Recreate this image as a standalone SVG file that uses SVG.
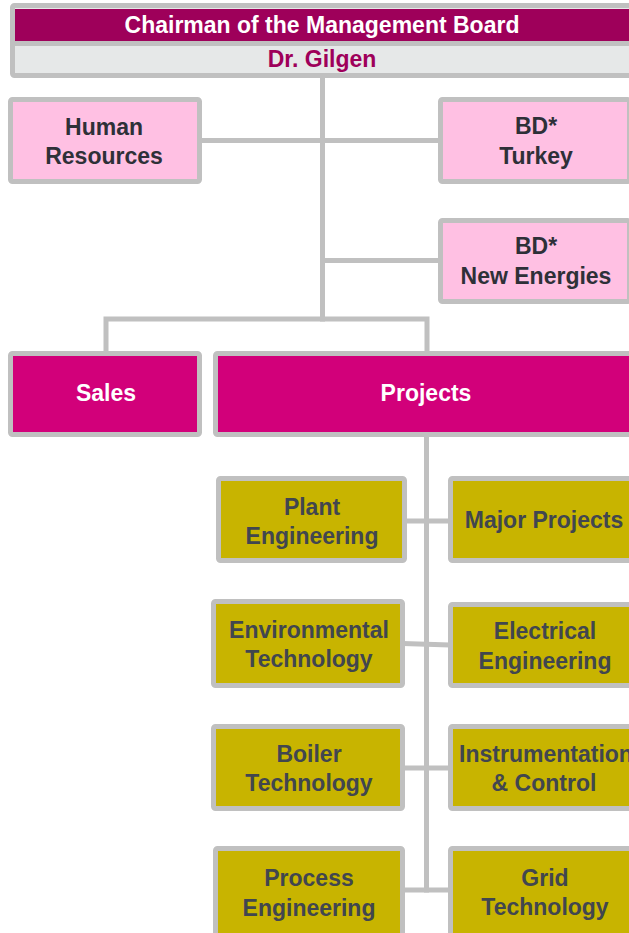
<svg xmlns="http://www.w3.org/2000/svg" width="629" height="933" viewBox="0 0 629 933">
  <style>
    text { font-family: "Liberation Sans", Arial, sans-serif; font-weight: bold; font-size: 23px; text-anchor: middle; }
    .frame { stroke: #c0c0c0; stroke-width: 5; }
    .staff { fill: #ffc0e3; }
    .unit { fill: #d2007a; }
    .dept { fill: #c8b400; }
    .dark { fill: #2e3038; }
    .grey { fill: #41464f; }
    .white { fill: #ffffff; }
    .conn { stroke: #c0c0c0; stroke-width: 5; fill: none; }
  </style>
  <rect width="629" height="933" fill="#ffffff"/>

  <!-- connectors -->
  <g id="connectors" class="conn">
    <line x1="322.5" y1="76" x2="322.5" y2="321.5"/>
    <line x1="200" y1="140.5" x2="440" y2="140.5"/>
    <line x1="322.5" y1="260.5" x2="440" y2="260.5"/>
    <polyline points="106,353 106,319 427,319 427,353"/>
    <line x1="426.5" y1="435" x2="426.5" y2="892.5"/>
    <line x1="405" y1="521" x2="450" y2="521"/>
    <line x1="403" y1="643.5" x2="450" y2="645"/>
    <line x1="403" y1="768" x2="450" y2="768"/>
    <line x1="403" y1="890" x2="450" y2="890"/>
  </g>

  <!-- chairman -->
  <g id="chairman">
    <rect x="12.5" y="5.5" width="640" height="70" rx="2" fill="#e6e8e8" class="frame"/>
    <rect x="15" y="9" width="640" height="32" fill="#9e005a"/>
    <line x1="15" y1="43.5" x2="655" y2="43.5" stroke="#c0c0c0" stroke-width="5"/>
    <text x="322" y="33" class="white">Chairman of the Management Board</text>
    <text x="322" y="67" fill="#9e005a">Dr. Gilgen</text>
  </g>

  <!-- staff functions -->
  <g id="human-resources">
    <rect x="10.5" y="99.5" width="189" height="82" rx="2" class="frame staff"/>
    <text x="104" y="135" class="dark">Human</text>
    <text x="104" y="164" class="dark">Resources</text>
  </g>
  <g id="bd-turkey">
    <rect x="440.5" y="99.5" width="189" height="82" rx="2" class="frame staff"/>
    <text x="536" y="134" class="dark">BD*</text>
    <text x="536" y="164" class="dark">Turkey</text>
  </g>
  <g id="bd-new-energies">
    <rect x="440.5" y="220.5" width="189" height="81" rx="2" class="frame staff"/>
    <text x="536" y="254" class="dark">BD*</text>
    <text x="536" y="284" class="dark">New Energies</text>
  </g>

  <!-- business units -->
  <g id="sales">
    <rect x="10.5" y="353.5" width="189" height="81" rx="2" class="frame unit"/>
    <text x="106" y="401" class="white">Sales</text>
  </g>
  <g id="projects">
    <rect x="215.5" y="353.5" width="430" height="81" rx="2" class="frame unit"/>
    <text x="426" y="401" class="white">Projects</text>
  </g>

  <!-- project departments -->
  <g id="plant-engineering">
    <rect x="218.5" y="478.5" width="186" height="82" rx="2" class="frame dept"/>
    <text x="312" y="515" class="grey">Plant</text>
    <text x="312" y="544" class="grey">Engineering</text>
  </g>
  <g id="major-projects">
    <rect x="450.5" y="478.5" width="190" height="82" rx="2" class="frame dept"/>
    <text x="544" y="528" class="grey">Major Projects</text>
  </g>
  <g id="environmental-technology">
    <rect x="213.5" y="601.5" width="189" height="84" rx="2" class="frame dept"/>
    <text x="309" y="638" class="grey">Environmental</text>
    <text x="309" y="667" class="grey">Technology</text>
  </g>
  <g id="electrical-engineering">
    <rect x="450.5" y="604.5" width="190" height="81" rx="2" class="frame dept"/>
    <text x="545" y="639" class="grey">Electrical</text>
    <text x="545" y="669" class="grey">Engineering</text>
  </g>
  <g id="boiler-technology">
    <rect x="213.5" y="726.5" width="189" height="82" rx="2" class="frame dept"/>
    <text x="309" y="762" class="grey">Boiler</text>
    <text x="309" y="791" class="grey">Technology</text>
  </g>
  <g id="instrumentation-control">
    <rect x="450.5" y="726.5" width="190" height="82" rx="2" class="frame dept"/>
    <text x="546" y="762" class="grey">Instrumentation</text>
    <text x="544" y="791" class="grey">&amp; Control</text>
  </g>
  <g id="process-engineering">
    <rect x="215.5" y="848.5" width="187" height="95" rx="2" class="frame dept"/>
    <text x="309" y="886" class="grey">Process</text>
    <text x="309" y="916" class="grey">Engineering</text>
  </g>
  <g id="grid-technology">
    <rect x="450.5" y="848.5" width="190" height="95" rx="2" class="frame dept"/>
    <text x="545" y="886" class="grey">Grid</text>
    <text x="545" y="915" class="grey">Technology</text>
  </g>
</svg>
